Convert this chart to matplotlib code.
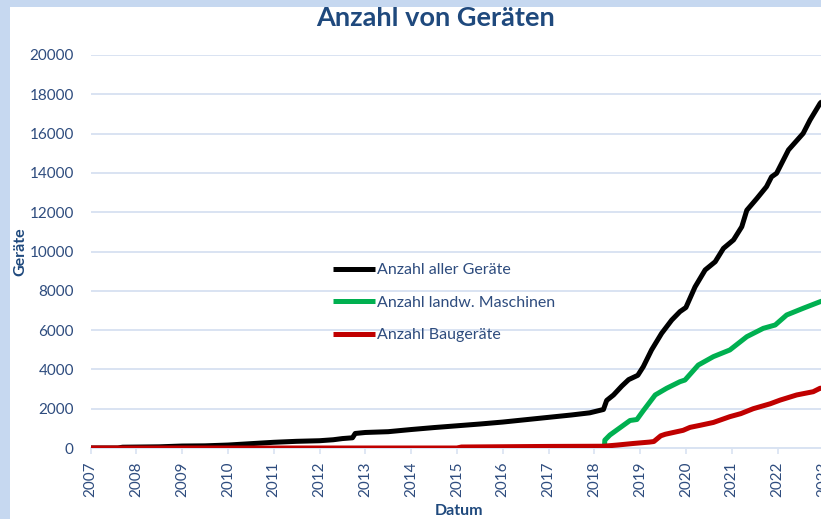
import matplotlib
matplotlib.use("Agg")
import matplotlib.pyplot as plt
from matplotlib.patches import Rectangle

plt.rcParams['font.family'] = ['Lato', 'DejaVu Sans']

# ---- data (decimal years) ----
total_t = [2007.0, 2007.6, 2007.7, 2008.5, 2009.0, 2009.5, 2010.0, 2010.5, 2011.0, 2011.5,
           2012.0, 2012.3, 2012.5, 2012.72, 2012.78, 2013.0, 2013.5, 2014.0, 2014.5, 2015.0,
           2015.5, 2016.0, 2016.5, 2017.0, 2017.5, 2017.9, 2018.2, 2018.27, 2018.42, 2018.6,
           2018.75, 2018.95, 2019.07, 2019.25, 2019.47, 2019.69, 2019.87, 2020.0, 2020.2, 2020.42,
           2020.64, 2020.82, 2021.04, 2021.22, 2021.33, 2021.55, 2021.76, 2021.87, 2021.98, 2022.24,
           2022.56, 2022.71, 2022.93, 2023.0]
total_v = [0, 0, 40, 60, 100, 110, 150, 220, 290, 340,
           370, 420, 480, 520, 740, 790, 830, 940, 1040, 1130,
           1220, 1320, 1440, 1560, 1680, 1790, 1960, 2420, 2700, 3150,
           3480, 3700, 4140, 4990, 5835, 6510, 6940, 7150, 8200, 9060,
           9480, 10160, 10590, 11260, 12100, 12700, 13300, 13800, 13980, 15170,
           16010, 16690, 17540, 17700]

agri_t = [2017.0, 2018.22, 2018.23, 2018.34, 2018.78, 2018.93, 2019.07, 2019.33, 2019.58, 2019.87,
          2019.98, 2020.27, 2020.6, 2020.96, 2021.33, 2021.69, 2021.95, 2022.2, 2022.56, 2022.93,
          2023.0]
agri_v = [0, 0, 400, 660, 1400, 1450, 1900, 2700, 3040, 3375,
          3460, 4220, 4650, 4990, 5665, 6090, 6260, 6770, 7110, 7445,
          7500]

constr_t = [2007.0, 2015.0, 2015.1, 2017.0, 2018.2, 2018.5, 2018.85, 2019.2, 2019.3, 2019.45,
            2019.55, 2019.94, 2020.09, 2020.3, 2020.6, 2020.96, 2021.2, 2021.47, 2021.84, 2022.06,
            2022.42, 2022.78, 2022.93, 2023.0]
constr_v = [0, 0, 50, 80, 90, 150, 230, 300, 330, 620,
            700, 900, 1050, 1150, 1300, 1595, 1750, 2000, 2250, 2440,
            2700, 2865, 3040, 3050]

labels = ["Anzahl aller Geräte", "Anzahl landw. Maschinen", "Anzahl Baugeräte"]
colors = ["#000000", "#00B050", "#C00000"]
years = list(range(2007, 2024))
yticks = list(range(0, 20001, 2000))

W, H = 821, 519
fig = plt.figure(figsize=(W / 100, H / 100), dpi=100)
fig.patch.set_facecolor("white")

x0, x1 = 2007.0, 2023.2
px_per_year = 45.8
left_px, bottom_px, top_px = 90.5, 448, 55
ax = fig.add_axes([left_px / W, (H - bottom_px) / H,
                   (x1 - x0) * px_per_year / W, (bottom_px - top_px) / H])
ax.set_facecolor("none")

grid_c = "#D9E3F2"
text_c = "#2E4C7E"
dark_c = "#1F497D"

ax.plot(total_t, total_v, color=colors[0], lw=3.6, label=labels[0], solid_capstyle='butt')
ax.plot(agri_t, agri_v, color=colors[1], lw=3.6, label=labels[1], solid_capstyle='butt')
ax.plot(constr_t, constr_v, color=colors[2], lw=3.6, label=labels[2], solid_capstyle='butt')

ax.set_xlim(x0, x1)
ax.set_ylim(0, 20000)
ax.set_yticks(yticks)
ax.set_yticklabels([str(v) for v in yticks])
ax.set_xticks(years)
ax.set_xticklabels([str(y) for y in years], rotation=90)
ax.grid(axis='y', color=grid_c, lw=1.4)
ax.set_axisbelow(True)
for s in ['left', 'right', 'top']:
    ax.spines[s].set_visible(False)
ax.spines['bottom'].set_color(grid_c)
ax.spines['bottom'].set_linewidth(1.4)
ax.spines['bottom'].set_zorder(0.5)
ax.tick_params(axis='y', length=0, pad=12, labelsize=11, labelcolor=text_c)
ax.tick_params(axis='x', length=4, width=1.2, color=grid_c, pad=6, labelsize=11, labelcolor=text_c)

leg = ax.legend(loc='upper left', bbox_to_anchor=(333 / W, 1 - 263 / H),
                bbox_transform=fig.transFigure, frameon=False, borderpad=0,
                handlelength=2.6, handletextpad=0.15, labelspacing=1.15,
                prop={'size': 11.5}, borderaxespad=0)
for t in leg.get_texts():
    t.set_color(text_c)

fig.text(436 / W, 1 - 26 / H, "Anzahl von Geräten", ha='center', va='baseline',
         fontsize=19.5, fontweight='bold', color=dark_c)
fig.text(20 / W, 1 - 252 / H, "Geräte", ha='center', va='center', rotation=90,
         fontsize=11.5, fontweight='bold', color=dark_c)
fig.text(459 / W, 1 - 511 / H, "Datum", ha='center', va='center',
         fontsize=11.5, fontweight='bold', color=dark_c)

border_c = "#C6D8F0"
fig.patches.append(Rectangle((0, 1 - 7 / H), 1, 7 / H, transform=fig.transFigure,
                             facecolor=border_c, edgecolor='none', zorder=10))
fig.patches.append(Rectangle((0, 0), 10 / W, 1, transform=fig.transFigure,
                             facecolor=border_c, edgecolor='none', zorder=10))

fig.savefig("out.png", dpi=100)
